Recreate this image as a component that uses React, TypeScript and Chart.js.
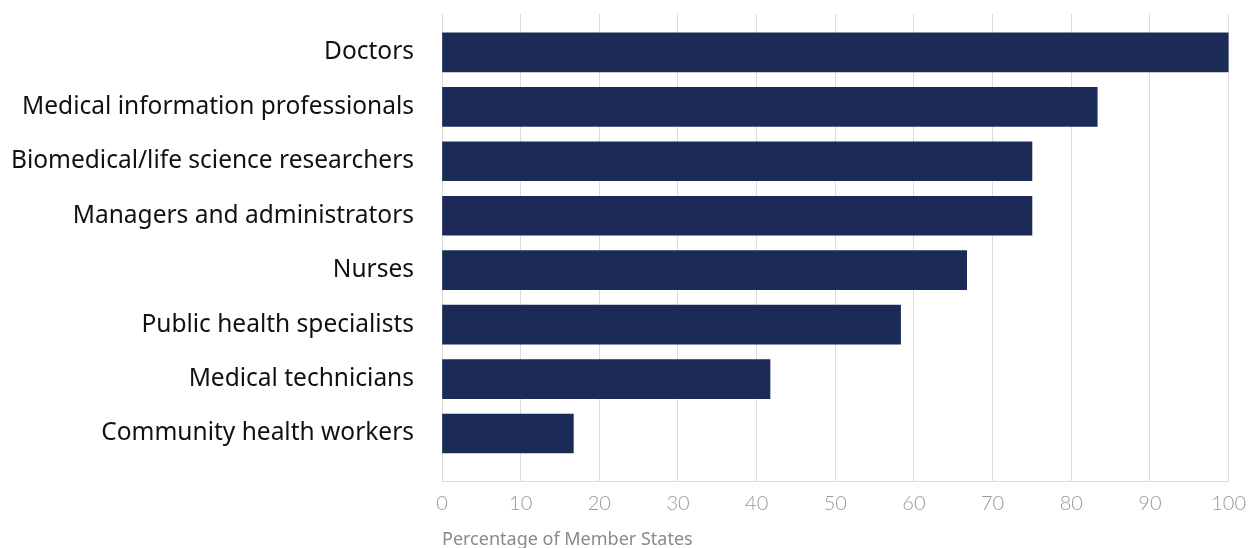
import React, { useEffect, useRef } from "react";
import { Chart, registerables } from "chart.js";

Chart.register(...registerables);

const categories: string[] = [
  "Doctors",
  "Medical information professionals",
  "Biomedical/life science researchers",
  "Managers and administrators",
  "Nurses",
  "Public health specialists",
  "Medical technicians",
  "Community health workers",
];

const percentages: number[] = [100, 83.3, 75, 75, 66.7, 58.3, 41.7, 16.7];

const xTicks: number[] = [0, 10, 20, 30, 40, 50, 60, 70, 80, 90, 100];

const axisTitle = "Percentage of Member States";

export default function App() {
  const canvasRef = useRef<HTMLCanvasElement | null>(null);

  useEffect(() => {
    if (!canvasRef.current) return;
    const chart = new Chart(canvasRef.current, {
      type: "bar",
      data: {
        datasets: [
          {
            data: percentages.map((v, i) => ({ x: v, y: i })),
            backgroundColor: "#1b2a57",
            borderWidth: 0,
            barThickness: 39,
          },
        ],
      },
      options: {
        indexAxis: "y",
        animation: false,
        responsive: true,
        maintainAspectRatio: false,
        layout: { padding: { top: 14, right: 0, left: 0, bottom: 0 } },
        plugins: { legend: { display: false }, tooltip: { enabled: false } },
        scales: {
          x: {
            type: "linear",
            min: 0,
            max: 100,
            afterBuildTicks: (scale: any) => {
              scale.ticks = xTicks.map((v) => ({ value: v }));
            },
            grid: { color: "#dcdcdc", lineWidth: 1, drawTicks: false },
            border: { display: true, color: "#dcdcdc", width: 1 },
            ticks: {
              padding: 10,
              color: "#9a9a9a",
              font: { family: "Lato", size: 20, weight: "300" },
              maxRotation: 0,
            },
            title: {
              display: true,
              text: axisTitle,
              align: "start",
              color: "#8a8a8a",
              font: { family: "Noto Sans", size: 18 },
              padding: { top: 4, bottom: 0 },
            },
          },
          y: {
            type: "linear",
            reverse: true,
            offset: false,
            bounds: "data",
            grace: 0,
            min: -0.705,
            max: 7.88,
            afterBuildTicks: (scale: any) => {
              scale.ticks = categories.map((_, i) => ({ value: i }));
            },
            afterFit: (scale: any) => {
              scale.width = 442;
              scale.paddingTop = 0;
              scale.paddingBottom = 0;
            },
            grid: { display: false, drawTicks: false, offset: false },
            border: { display: false },
            ticks: {
              padding: 28,
              color: "#111111",
              font: { family: "Noto Sans", size: 24.5 },
              callback: (v: any) => categories[v as number] ?? "",
            },
          },
        },
      },
    });
    return () => chart.destroy();
  }, []);

  return (
    <div
      style={{
        position: "fixed",
        left: 0,
        top: 0,
        width: 1250,
        height: 548,
        overflow: "hidden",
        background: "#fff",
      }}
    >
      <div style={{ position: "relative", width: 1256, height: 551 }}>
        <canvas ref={canvasRef} />
      </div>
    </div>
  );
}
